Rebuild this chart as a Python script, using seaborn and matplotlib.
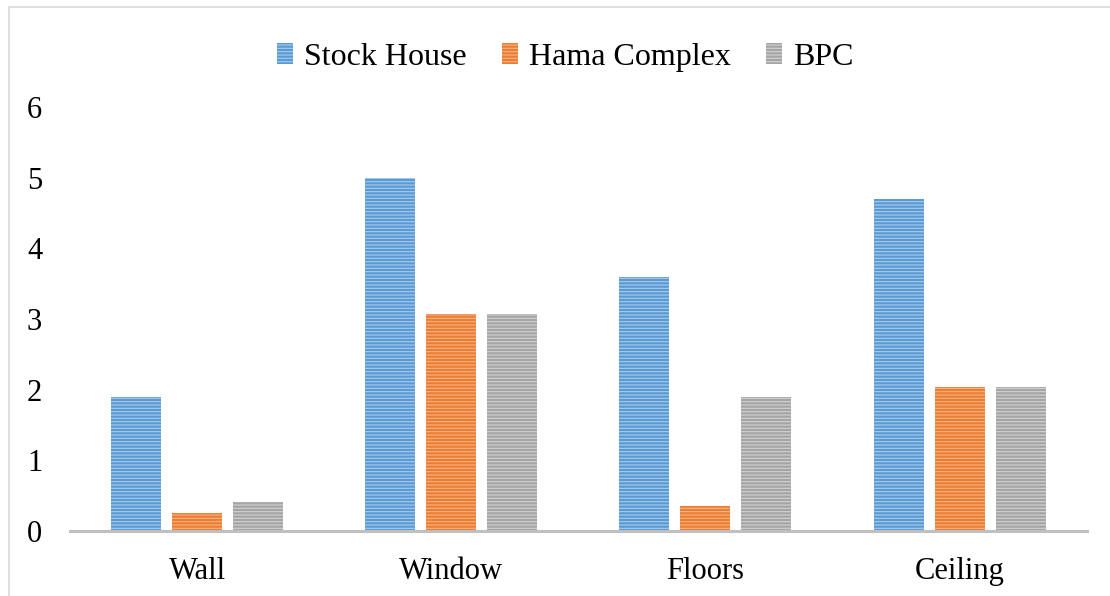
import matplotlib
matplotlib.use("Agg")
import matplotlib.pyplot as plt
import seaborn as sns
import pandas as pd
from matplotlib.patches import Rectangle

categories = ["Wall", "Window", "Floors", "Ceiling"]
series_names = ["Stock House", "Hama Complex", "BPC"]
stock_house = [1.9, 5.0, 3.6, 4.7]
hama_complex = [0.25, 3.07, 0.35, 2.04]
bpc = [0.41, 3.07, 1.9, 2.04]
yticks = [0, 1, 2, 3, 4, 5, 6]

colors = ["#5B9BD5", "#ED7D31", "#A5A5A5"]
stripe = ["#A9CBEA", "#F5B48A", "#D2D2D2"]

rows = []
for name, vals in zip(series_names, [stock_house, hama_complex, bpc]):
    for c, v in zip(categories, vals):
        rows.append({"category": c, "series": name, "value": v})
df = pd.DataFrame(rows)

sns.set_theme(style="white")
plt.rcParams["font.family"] = ["Liberation Serif", "DejaVu Serif"]
plt.rcParams["hatch.linewidth"] = 0.8
plt.rcParams["text.color"] = "black"

fig = plt.figure(figsize=(11.1, 5.96), dpi=100)
ax = fig.add_axes([0.063, 0.109, 0.916, 0.7115])

sns.barplot(data=df, x="category", y="value", hue="series", order=categories,
            hue_order=series_names, palette=colors, width=0.72, gap=0.18,
            ax=ax, legend=False, saturation=1)

for cont, col, st in zip(ax.containers, colors, stripe):
    for bar in cont:
        bar.set_facecolor(col)
        bar.set_edgecolor(st)
        bar.set_hatch("-----")
        bar.set_linewidth(0)

ax.set_xlim(-0.5, 3.5)
ax.set_ylim(0, 6)
ax.set_yticks(yticks)
ax.set_xlabel("")
ax.set_ylabel("")
for s in ["top", "right", "left"]:
    ax.spines[s].set_visible(False)
ax.spines["bottom"].set_color("#C0C0C0")
ax.spines["bottom"].set_linewidth(2.2)
ax.tick_params(axis="y", length=0, pad=20, labelsize=22, labelcolor="black")
ax.tick_params(axis="x", length=0, pad=19, labelsize=22, labelcolor="black")
ax.grid(False)

handles = [Rectangle((0, 0), 1, 1, facecolor=c, edgecolor=s, hatch="-----", linewidth=0)
           for c, s in zip(colors, stripe)]
leg = fig.legend(handles, series_names, loc="center", bbox_to_anchor=(0.509, 0.904), ncol=3,
                 frameon=False, fontsize=23, handlelength=0.5, handleheight=0.62,
                 handletextpad=0.35, columnspacing=1.1)
for t in leg.get_texts():
    t.set_color("black")

fig.patches.append(Rectangle((9 / 1110, -0.05), 1.2, 1 - 7 / 596 + 0.05, transform=fig.transFigure,
                             fill=False, edgecolor="#D9D9D9", linewidth=1.2))

fig.savefig("out.png", dpi=100)
